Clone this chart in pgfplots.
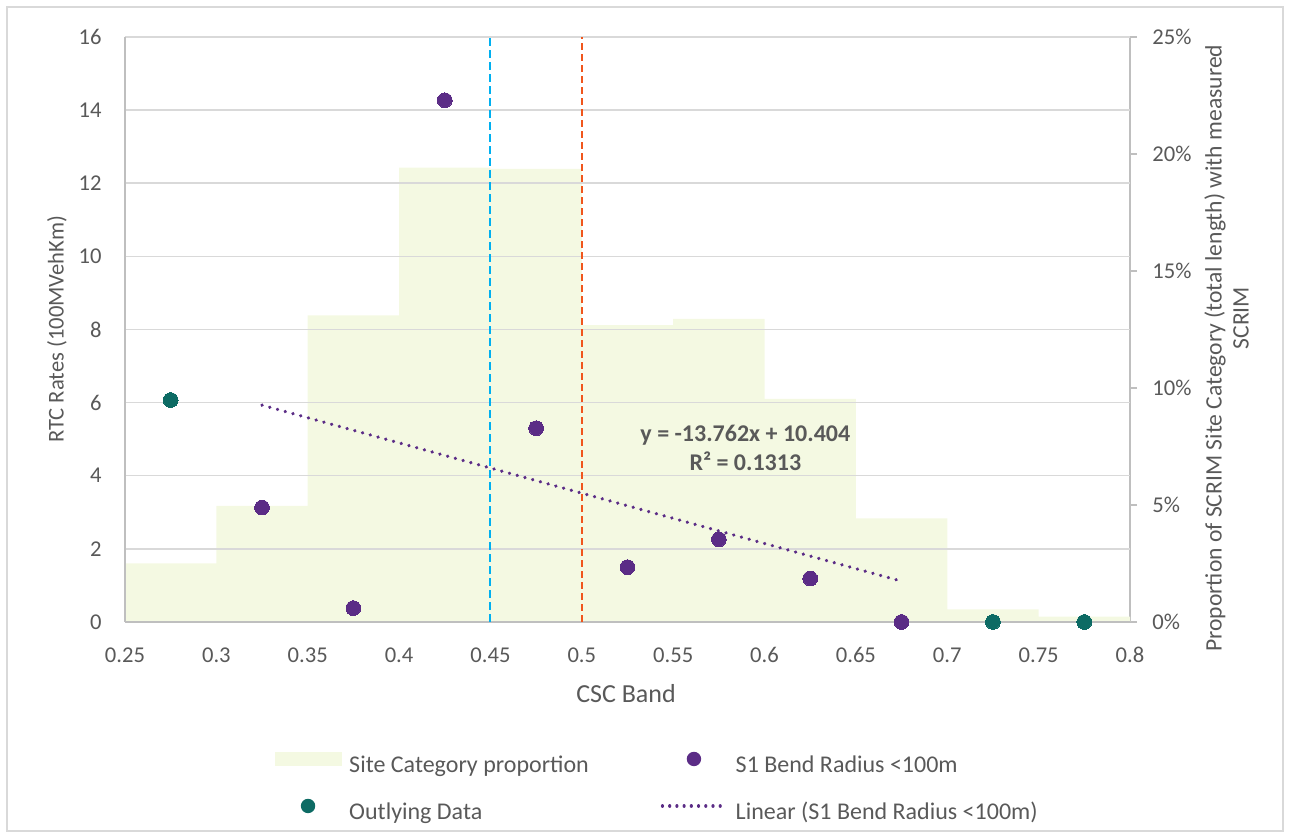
\documentclass[border=0pt]{standalone}
\usepackage{pgfplots}
\pgfplotsset{compat=1.18}
\usepackage{fontspec}
\setmainfont{Carlito}
\definecolor{txt}{HTML}{595959}
\definecolor{barfill}{HTML}{F4F9E2}
\definecolor{ptpurple}{HTML}{5B2C86}
\definecolor{ptteal}{HTML}{0D6B64}
\definecolor{gridc}{HTML}{D9D9D9}
\definecolor{axc}{HTML}{BFBFBF}
\definecolor{vblue}{HTML}{00B0F0}
\definecolor{vorange}{HTML}{F0561D}
\begin{document}
\begin{tikzpicture}
% ---------- right axis: site category proportion (bars) ----------
\begin{axis}[
  scale only axis, width=502.5pt, height=292.5pt,
  xmin=0.25, xmax=0.8, ymin=0, ymax=25,
  axis x line=none, axis y line*=right,
  axis line style={axc, line width=0.6pt, -},
  ytick={0,5,10,15,20,25},
  tick align=outside, major tick length=3.5pt,
  tick style={axc, line width=0.6pt},
  /pgf/number format/assume math mode=true,
  yticklabel={\pgfmathprintnumber{\tick}\%},
  yticklabel style={font=\fontsize{11.3}{13}\selectfont, text=txt, anchor=west, inner sep=0pt, xshift=7.5pt},
  ylabel={Proportion of SCRIM Site Category (total length) with measured\\\hspace*{30pt}SCRIM},
  ylabel style={at={(axis description cs:1.096,0.468)}, anchor=center, align=center,
    font=\fontsize{11.8}{13.5}\selectfont, text=txt},
]
\addplot[ybar interval, fill=barfill, draw=none] coordinates {
  (0.25,2.51) (0.30,4.96) (0.35,13.10) (0.40,19.42) (0.45,19.36)
  (0.50,12.69) (0.55,12.95) (0.60,9.53) (0.65,4.43) (0.70,0.54)
  (0.75,0.23) (0.80,0.23)};
\end{axis}
% ---------- left axis: RTC rates ----------
\begin{axis}[
  scale only axis, width=502.5pt, height=292.5pt,
  xmin=0.25, xmax=0.8, ymin=0, ymax=16,
  axis x line*=bottom, axis y line*=left,
  axis line style={axc, line width=0.6pt, -},
  xtick={0.25,0.3,0.35,0.4,0.45,0.5,0.55,0.6,0.65,0.7,0.75,0.8},
  ytick={0,2,4,6,8,10,12,14,16},
  major tick length=0pt,
  ymajorgrids, grid style={gridc, line width=0.75pt},
  /pgf/number format/assume math mode=true,
  ticklabel style={font=\fontsize{11.3}{13}\selectfont, text=txt},
  yticklabel style={anchor=east, inner sep=0pt, xshift=-11.5pt},
  xticklabel style={anchor=north, inner sep=0pt, yshift=-12.5pt},
  xlabel={CSC Band},
  xlabel style={at={(axis description cs:0.4985,-0.123)}, anchor=center,
    font=\fontsize{13}{15}\selectfont, text=txt},
  ylabel={RTC Rates (100MVehKm)},
  ylabel style={at={(axis description cs:-0.0677,0.5)}, anchor=center,
    font=\fontsize{11.3}{14}\selectfont, text=txt},
  legend columns=2, legend cell align=left,
  legend style={at={(axis description cs:0.1488,-0.2828)}, anchor=west,
    draw=none, fill=none, inner sep=0pt, outer sep=0pt,
    font=\fontsize{12}{14}\selectfont, text=txt,
    row sep=9.25pt,
    nodes={inner sep=0pt, text height=8.5pt, text depth=3pt},
    /tikz/every even column/.append style={column sep=0pt},
    /tikz/every odd column/.append style={column sep=3.85pt}},
]
\addplot[forget plot, vblue, line width=1pt, dash pattern=on 4pt off 2pt] coordinates {(0.45,0) (0.45,16)};
\addplot[forget plot, vorange, line width=1pt, dash pattern=on 3.5pt off 2pt] coordinates {(0.5,0) (0.5,16)};
\addlegendimage{legend image code/.code={\path[draw=none, fill=none] (0pt,-2pt) rectangle (33.5pt,8.5pt); \fill[barfill, draw=none] (0pt,0.5pt) rectangle (33.5pt,7.2pt);}}
\addlegendentry{\makebox[155.6pt][l]{Site Category proportion}}
\addplot[ptpurple, only marks, mark=*, mark size=3.7pt, mark options={draw=ptpurple, fill=ptpurple, line width=0pt},
  legend image code/.code={\path[draw=none, fill=none] (0pt,-2pt) rectangle (33.5pt,8.5pt); \fill[ptpurple, draw=none] (16.75pt,3.86pt) circle (3.6pt);}]
  coordinates {(0.325,3.13) (0.375,0.38) (0.425,14.27) (0.475,5.30) (0.525,1.50) (0.575,2.26) (0.625,1.19) (0.675,0)};
\addlegendentry{\makebox[155.6pt][l]{S1 Bend Radius <100m}}
\addplot[ptteal, only marks, mark=*, mark size=3.7pt, mark options={draw=ptteal, fill=ptteal, line width=0pt},
  legend image code/.code={\path[draw=none, fill=none] (0pt,-2pt) rectangle (33.5pt,8.5pt); \fill[ptteal, draw=none] (16.75pt,3.86pt) circle (3.6pt);}]
  coordinates {(0.275,6.07) (0.725,0) (0.775,0)};
\addlegendentry{\makebox[155.6pt][l]{Outlying Data}}
\addplot[ptpurple, line width=1.8pt, line cap=round, dash pattern=on 0.01pt off 4pt,
  legend image code/.code={\path[draw=none, fill=none] (0pt,-2pt) rectangle (33.5pt,8.5pt); \draw[ptpurple, line width=1.6pt, line cap=round, dash pattern=on 0.01pt off 3.6pt] (1pt,3.86pt) -- (33pt,3.86pt);}]
  coordinates {(0.325,5.931) (0.675,1.115)};
\addlegendentry{\makebox[155.6pt][l]{Linear (S1 Bend Radius <100m)}}
\node[font=\bfseries\fontsize{12}{14.5}\selectfont, text=txt, align=center] at (axis cs:0.5895,4.77) {y = -13.762x + 10.404\\R² = 0.1313};
\end{axis}
\pgfresetboundingbox
\draw[gridc, line width=0.65pt] (-59pt,-104.5pt) rectangle (579pt,307.5pt);
\path (-62.5pt,-108pt) rectangle (582.5pt,311pt);
\end{tikzpicture}
\end{document}
